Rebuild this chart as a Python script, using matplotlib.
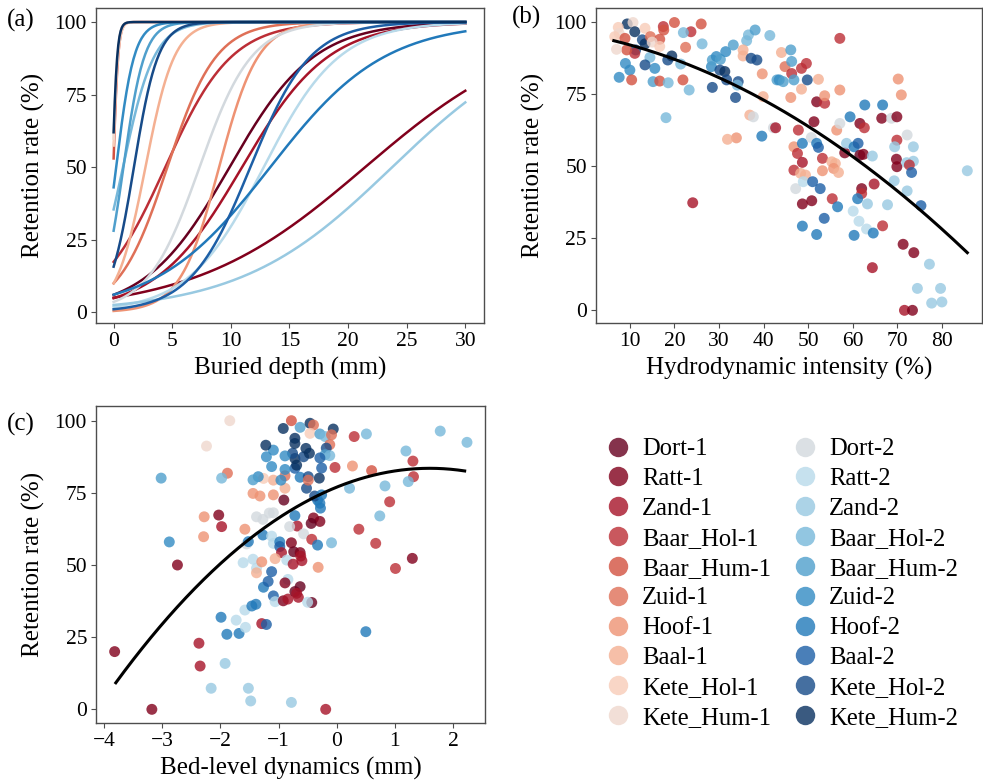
import numpy as np
import matplotlib
matplotlib.use("Agg")
import matplotlib.pyplot as plt
from matplotlib.lines import Line2D

plt.rcParams['font.family'] = ['Liberation Serif', 'DejaVu Serif']

# ---------------- data ----------------
sites = ["Dort-1", "Ratt-1", "Zand-1", "Baar_Hol-1", "Baar_Hum-1", "Zuid-1",
         "Hoof-1", "Baal-1", "Kete_Hol-1", "Kete_Hum-1",
         "Dort-2", "Ratt-2", "Zand-2", "Baar_Hol-2", "Baar_Hum-2", "Zuid-2",
         "Hoof-2", "Baal-2", "Kete_Hol-2", "Kete_Hum-2"]

site_colors = ["#67001f", "#81001c", "#a61328", "#bc2e36", "#d35140", "#df7057",
               "#ee9273", "#f4b092", "#f8ccb8", "#efd8ce",
               "#d3d9de", "#b8daea", "#98c9e1", "#77b8da", "#4f9fcc", "#328bc3",
               "#2179ba", "#1d5fa6", "#174b89", "#093160"]

# panel (a): fitted logistic models per site  (logit(p) = intercept + slope * depth)
a_intercept = [-2.75, -2.94, -2.98, -1.56, 0.12, -2.20, -5.40, -2.20, 0.30, 0.40,
               -3.30, -3.97, -3.66, -0.60, -0.94, -0.28, -2.74, -4.55, -1.68, 0.49]
a_slope = [0.278, 0.137, 0.272, 0.354, 4.9, 0.48, 0.60, 0.81, 4.5, 5.0,
           0.45, 0.31, 0.154, 0.75, 1.12, 1.30, 0.205, 0.39, 0.97, 4.9]
a_depth_max = 30

# panel (b): hydrodynamic intensity vs retention
b_x = [9.4, 10.7, 7.4, 7.6, 6.6, 8.9, 11.1, 13.4, 12.8, 13.4, 11.3, 11.1, 9.3, 7.0, 14.6,
       16.7, 15.0, 17.5, 17.6, 20.0, 23.7, 26.0, 22.0, 26.2, 22.5, 16.7, 14.5, 15.6, 13.4,
       9.0, 10.0, 7.6, 10.4, 15.2, 16.7, 18.6, 18.5, 19.4, 18.1, 21.4, 21.9, 23.3, 24.1,
       28.3, 28.5, 29.4, 30.3, 31.5, 33.2, 30.2, 31.3, 31.7, 34.3, 28.5, 33.7, 34.1, 36.2,
       36.6, 38.1, 41.4, 35.4, 35.4, 37.2, 38.5, 36.9, 37.7, 33.9, 31.9, 39.7, 39.9, 39.6,
       42.2, 42.7, 43.0, 43.5, 44.4, 44.0, 44.8, 46.3, 46.1, 46.3, 46.8, 46.1, 48.5, 48.5,
       49.6, 49.8, 52.3, 51.9, 53.7, 53.7, 57.1, 57.1, 51.3, 47.8, 46.8, 48.7, 47.6, 48.7,
       46.8, 48.3, 49.4, 47.2, 48.9, 51.0, 52.7, 50.7, 51.9, 52.3, 53.2, 53.2, 55.3, 56.1,
       55.7, 56.8, 56.4, 57.1, 48.7, 50.8, 55.4, 56.6, 53.6, 48.7, 51.9, 58.2, 59.4, 58.6,
       60.3, 61.2, 61.6, 62.6, 61.6, 62.4, 64.4, 62.7, 66.7, 66.5, 68.7, 69.9, 70.2, 70.9,
       69.9, 69.4, 69.8, 69.9, 69.3, 72.2, 73.6, 72.1, 73.6, 72.7, 73.2, 72.2, 75.3, 62.0,
       62.0, 61.1, 60.1, 61.4, 63.1, 63.3, 60.3, 64.6, 64.8, 67.8, 66.7, 71.3, 73.7, 64.4,
       71.6, 73.4, 77.2, 79.7, 74.5, 77.7, 80.0, 85.7]
b_y = [99.3, 99.8, 98.1, 96.0, 94.9, 94.3, 96.6, 97.8, 93.8, 92.4, 90.3, 89.1, 90.3, 90.5, 94.9,
       94.0, 93.0, 98.4, 97.2, 99.8, 96.6, 99.3, 96.3, 92.4, 91.2, 91.5, 87.7, 83.9, 85.1,
       85.6, 83.3, 80.8, 79.9, 79.3, 79.5, 78.9, 86.8, 88.2, 66.8, 85.4, 79.9, 76.4, 37.3,
       84.5, 86.8, 88.0, 87.0, 89.7, 92.0, 83.3, 82.8, 79.9, 79.3, 77.3, 73.8, 78.1, 93.5,
       95.5, 97.2, 95.3, 90.3, 88.2, 87.4, 86.8, 67.7, 67.1, 59.8, 59.3, 82.0, 74.1, 60.4,
       63.3, 63.3, 79.9, 79.9, 79.3, 89.4, 84.5, 82.1, 90.3, 86.3, 79.9, 73.8, 76.7, 83.9,
       85.6, 79.9, 80.1, 72.3, 71.8, 74.4, 76.4, 94.3, 65.4, 62.5, 56.7, 57.9, 54.4, 51.3,
       48.6, 47.5, 46.9, 42.2, 44.6, 44.6, 42.2, 59.9, 57.9, 56.5, 52.7, 48.4, 51.5, 50.9,
       49.2, 47.8, 62.5, 64.8, 36.9, 38.0, 38.7, 35.9, 31.9, 29.2, 26.3, 54.6, 67.1, 57.9,
       56.7, 57.9, 64.8, 63.3, 53.8, 54.1, 53.5, 71.2, 71.2, 66.6, 66.6, 67.1, 80.2, 74.7,
       59.0, 56.7, 52.4, 49.8, 44.9, 60.8, 56.7, 51.2, 51.7, 50.4, 47.8, 41.4, 36.3, 42.2,
       40.5, 38.7, 34.4, 30.9, 28.2, 36.9, 26.0, 26.8, 43.8, 36.6, 29.3, 22.9, 20.0, 14.8,
       0.0, 0.0, 16.0, 7.6, 7.6, 2.5, 2.9, 48.4]
b_site = [19, 9, 8, 9, 8, 4, 19, 8, 18, 19, 18, 3, 4, 9, 5,
          4, 9, 3, 4, 4, 3, 4, 13, 13, 5, 8, 13, 15, 18,
          15, 15, 15, 4, 14, 4, 13, 18, 19, 13, 13, 4, 13, 2,
          15, 14, 15, 14, 15, 14, 18, 19, 18, 18, 18, 18, 13, 13,
          13, 14, 13, 7, 7, 18, 18, 7, 10, 6, 7, 6, 7, 16,
          10, 2, 14, 15, 14, 7, 5, 3, 14, 14, 14, 6, 7, 3,
          3, 18, 7, 1, 3, 6, 6, 3, 1, 3, 6, 16, 3, 2,
          3, 7, 7, 10, 11, 17, 17, 10, 16, 17, 3, 6, 7, 7,
          6, 7, 6, 10, 1, 1, 3, 16, 17, 16, 16, 1, 16, 12,
          16, 17, 1, 3, 0, 1, 12, 16, 16, 1, 10, 1, 6, 6,
          3, 12, 1, 1, 12, 10, 12, 12, 12, 3, 17, 12, 17, 1,
          3, 16, 11, 11, 11, 12, 16, 16, 2, 12, 3, 1, 1, 2,
          2, 1, 12, 12, 12, 12, 12, 12]
b_fit_coef = [95.65, -0.2925, -0.006888]   # quadratic fit c0 + c1*x + c2*x^2
b_fit_range = [6.4, 85.7]

# panel (c): bed-level dynamics vs retention
c_x = [-1.84, -2.24, -1.88, -1.98, -3.02, -2.88, -2.74, -3.82, -3.18, -2.37, -2.35, -2.03, -1.98,
       -2.28, -2.29, -1.99, -1.89, -1.92, -2.16, -1.68, -1.73, -1.58, -1.57, -1.52, -1.48, -0.78,
       -0.19, 0.50, -1.46, -1.39, -1.61, -1.44, -1.38, -1.38, -1.29, -1.55, -1.52, -1.58, -1.27,
       -1.38, -1.27, -1.16, -1.26, -1.18, -1.12, -1.09, -1.06, -1.29, -1.21, -1.44, -1.32, -1.09,
       -1.09, -1.12, -1.09, -0.98, -0.98, -0.95, -1.06, -0.86, -0.84, -0.89, -0.92, -0.84, -0.72,
       -0.63, -0.69, -0.66, -0.43, -0.50, -0.78, -0.74, -0.75, -0.63, -0.62, -0.60, -0.68, -0.81,
       -0.57, -0.43, -0.33, -0.32, -0.09, -0.72, -0.40, -0.29, -0.44, -0.91, -0.33, -0.29, -0.28,
       -0.38, -0.26, -0.89, -0.89, -1.09, -1.26, -0.96, -0.63, -0.49, -0.30, -0.52, -0.49, -0.72,
       -0.69, -0.72, -0.76, -0.57, -0.47, -0.53, -0.89, -0.89, -1.09, -1.21, -1.12, -1.35, -1.44,
       -1.22, -0.92, -0.72, -0.72, -0.78, -0.63, -0.46, -0.40, -0.46, -0.29, -0.20, -0.06, -0.09,
       -0.12, -0.18, -0.20, -0.12, -0.29, -0.26, -0.03, 0.30, 0.51, 0.27, 0.60, 0.22, 0.83, 0.74,
       0.38, 0.67, 0.91, 1.01, 1.30, 1.31, 1.32, 1.19, 1.23, 1.78, 2.24]
c_y = [100.0, 91.2, 81.8, 80.1, 80.1, 58.0, 50.0, 20.0, 0.0, 22.9, 15.0, 67.3, 63.3,
       66.7, 59.8, 31.9, 26.0, 15.9, 7.3, 26.3, 30.9, 34.4, 28.4, 7.3, 2.9, 2.4,
       0.0, 26.9, 35.8, 36.4, 50.8, 52.0, 48.9, 47.3, 51.1, 57.3, 58.1, 62.4, 60.4,
       66.7, 65.8, 68.0, 42.3, 44.3, 47.7, 39.3, 37.3, 29.7, 29.4, 74.8, 73.9, 74.3,
       68.1, 60.0, 57.5, 58.0, 56.4, 54.3, 52.2, 51.7, 45.0, 43.8, 37.6, 38.2, 40.8,
       42.5, 40.2, 38.8, 37.0, 37.1, 57.7, 54.6, 50.3, 54.3, 53.1, 51.5, 63.5, 63.3,
       60.8, 58.9, 56.9, 49.2, 57.7, 67.1, 66.3, 65.1, 64.4, 72.5, 72.5, 71.4, 69.7,
       73.9, 74.3, 80.9, 76.6, 79.4, 80.0, 79.4, 80.4, 80.6, 80.1, 76.6, 79.4, 83.5,
       84.6, 86.9, 88.7, 87.5, 88.7, 90.4, 87.8, 83.1, 89.8, 87.5, 84.1, 80.6, 79.5,
       91.5, 97.3, 93.9, 92.1, 100.0, 97.7, 99.1, 98.5, 95.6, 95.4, 94.5, 97.1, 95.1,
       91.7, 90.5, 88.2, 87.9, 87.1, 83.6, 83.8, 94.5, 95.4, 84.3, 82.7, 76.6, 77.4, 67.0,
       62.4, 57.5, 71.9, 48.8, 52.3, 86.0, 80.6, 89.5, 78.9, 96.4, 92.5]
c_site = [9, 9, 5, 13, 14, 15, 1, 1, 1, 2, 2, 1, 2,
          6, 6, 16, 16, 12, 12, 16, 11, 11, 11, 12, 12, 12,
          2, 16, 16, 16, 11, 11, 11, 7, 6, 10, 16, 6, 16,
          10, 10, 10, 16, 17, 17, 17, 11, 2, 17, 6, 6, 6,
          10, 11, 11, 16, 17, 2, 7, 11, 11, 1, 1, 2, 0,
          0, 2, 2, 0, 11, 1, 0, 2, 1, 2, 2, 2, 10,
          10, 3, 16, 6, 13, 16, 1, 1, 0, 0, 16, 16, 16,
          18, 16, 5, 7, 7, 8, 15, 16, 18, 19, 18, 5, 17,
          19, 19, 18, 18, 19, 19, 15, 15, 15, 15, 15, 15, 14,
          19, 19, 19, 19, 4, 14, 19, 5, 8, 14, 13, 19, 5,
          5, 18, 14, 13, 17, 17, 3, 3, 13, 6, 4, 13, 13, 13,
          3, 3, 3, 3, 1, 3, 3, 13, 13, 13, 13]
c_fit_coef = [76.98, 8.154, -2.548]
c_fit_range = [-3.8, 2.2]

# ---------------- style ----------------
spine_col = '#4d4d4d'
tick_fs = 15.5
label_fs = 18


def style(ax):
    for s in ax.spines.values():
        s.set_color(spine_col)
        s.set_linewidth(1.0)
    ax.tick_params(direction='out', length=3.5, width=0.8, color=spine_col,
                   labelsize=tick_fs, labelcolor='black', pad=3)
    ax.set_yticks([0, 25, 50, 75, 100])


fig = plt.figure(figsize=(9.83, 7.83), dpi=100)

# (a)
ax_a = fig.add_axes([0.0977, 0.5871, 0.3947, 0.4033])
depth = np.linspace(0, a_depth_max, 301)
for i, name in enumerate(sites):
    p = 100 / (1 + np.exp(-(a_intercept[i] + a_slope[i] * depth)))
    ax_a.plot(depth, p, color=site_colors[i], lw=1.8)
ax_a.set_xlim(-1.5, 31.6)
ax_a.set_ylim(-3.8, 105)
ax_a.set_xticks([0, 5, 10, 15, 20, 25, 30])
style(ax_a)
ax_a.set_xlabel('Buried depth (mm)', fontsize=label_fs)
ax_a.set_ylabel('Retention rate (%)', fontsize=label_fs, labelpad=7)

# (b)
ax_b = fig.add_axes([0.6063, 0.5871, 0.3927, 0.4033])
bc = [site_colors[s] for s in b_site]
ax_b.scatter(b_x, b_y, s=62, c=bc, alpha=0.8, edgecolors='none')
xb = np.linspace(b_fit_range[0], b_fit_range[1], 200)
ax_b.plot(xb, b_fit_coef[0] + b_fit_coef[1] * xb + b_fit_coef[2] * xb ** 2, color='black', lw=2.2)
ax_b.set_xlim(2.4, 89.0)
ax_b.set_ylim(-4.5, 105)
ax_b.set_xticks([10, 20, 30, 40, 50, 60, 70, 80])
style(ax_b)
ax_b.set_xlabel('Hydrodynamic intensity (%)', fontsize=label_fs)
ax_b.set_ylabel('Retention rate (%)', fontsize=label_fs, labelpad=7)

# (c)
ax_c = fig.add_axes([0.0977, 0.0762, 0.3957, 0.4057])
cc = [site_colors[s] for s in c_site]
ax_c.scatter(c_x, c_y, s=62, c=cc, alpha=0.8, edgecolors='none')
xc = np.linspace(c_fit_range[0], c_fit_range[1], 200)
ax_c.plot(xc, c_fit_coef[0] + c_fit_coef[1] * xc + c_fit_coef[2] * xc ** 2, color='black', lw=2.2)
ax_c.set_xlim(-4.14, 2.55)
ax_c.set_ylim(-4.85, 105.2)
ax_c.set_xticks([-4, -3, -2, -1, 0, 1, 2])
style(ax_c)
ax_c.set_xlabel('Bed-level dynamics (mm)', fontsize=label_fs)
ax_c.set_ylabel('Retention rate (%)', fontsize=label_fs, labelpad=7)

# panel letters
fig.text(7 / 983, 1 - 20 / 783, '(a)', fontsize=label_fs, va='center', ha='left')
fig.text(512 / 983, 1 - 17 / 783, '(b)', fontsize=label_fs, va='center', ha='left')
fig.text(7 / 983, 1 - 424 / 783, '(c)', fontsize=label_fs, va='center', ha='left')

# legend
handles = [Line2D([], [], marker='o', linestyle='', markersize=14, markerfacecolor=site_colors[i],
                  markeredgewidth=0, alpha=0.8) for i in range(len(sites))]
fig.legend(handles, sites, ncol=2, loc='upper left', bbox_to_anchor=(606 / 983, 1 - 438 / 783),
           frameon=False, fontsize=17.7, handlelength=1.0, handletextpad=0.46,
           columnspacing=0.9, labelspacing=0.31, borderpad=0, borderaxespad=0)

fig.savefig('out.png', dpi=100)
